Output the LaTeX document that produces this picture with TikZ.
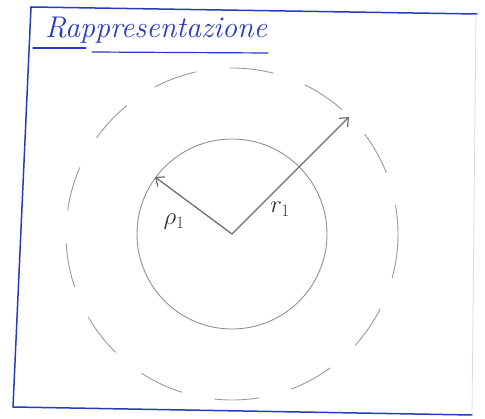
\documentclass[tikz,border=0pt]{standalone}
\usetikzlibrary{arrows.meta}
\definecolor{penblue}{RGB}{40,58,190}
\definecolor{pencil}{RGB}{110,110,110}
\begin{document}
\begin{tikzpicture}[x=1pt, y=-1pt, line cap=round, line join=round]

% --- Global TikZ Styles for Consistency ---
\tikzset{
    frame/.style={
        draw=penblue,
        line width=1.5pt
    },
    faintframe/.style={
        draw=penblue!25!black!15,
        line width=0.8pt
    },
    title/.style={
        text=penblue,
        font=\fontsize{30}{32}\selectfont\itshape,
        inner sep=0pt
    },
    innercircle/.style={
        draw=pencil!75,
        line width=0.9pt
    },
    outercircle/.style={
        draw=pencil!70,
        line width=0.9pt,
        dash pattern=on 44pt off 34pt
    },
    radiusarrow/.style={
        -{Straight Barb[length=7pt, width=12pt, line width=1.2pt]},
        draw=pencil,
        line width=1.3pt
    },
    label/.style={
        text=black!80,
        font=\fontsize{25}{27}\selectfont
    }
}

\useasboundingbox (0,0) rectangle (485,419);

% =========================================================================
% --- Frame and title ---
% =========================================================================
\draw[frame] (31,7) -- (477,14);   % top
\draw[frame] (31,7) -- (13,407);   % left
\draw[frame] (13,407) -- (472,415); % bottom
\draw[faintframe] (476,14) -- (472,415); % right

\node[title, anchor=base west] (title) at (45,38) {Rappresentazione};
\draw[penblue, line width=1.2pt] (33,48) -- (86,48);
\draw[penblue, line width=1.2pt] (92,52) -- (268,53);

% =========================================================================
% --- Circles ---
% =========================================================================
\coordinate (o) at (232,234);

\draw[innercircle] (o) circle[radius=95];
\draw[outercircle] (o) circle[radius=166];

% --- Radii ---
\coordinate (p1) at (155,177);
\coordinate (r1) at (349,117);

\draw[radiusarrow] (o) -- (p1);
\draw[radiusarrow] (o) -- (r1);

\node[label] (rholabel) at (174,222) {$\rho_1$};
\node[label] (rlabel) at (280,209) {$r_1$};

\end{tikzpicture}
\end{document}
